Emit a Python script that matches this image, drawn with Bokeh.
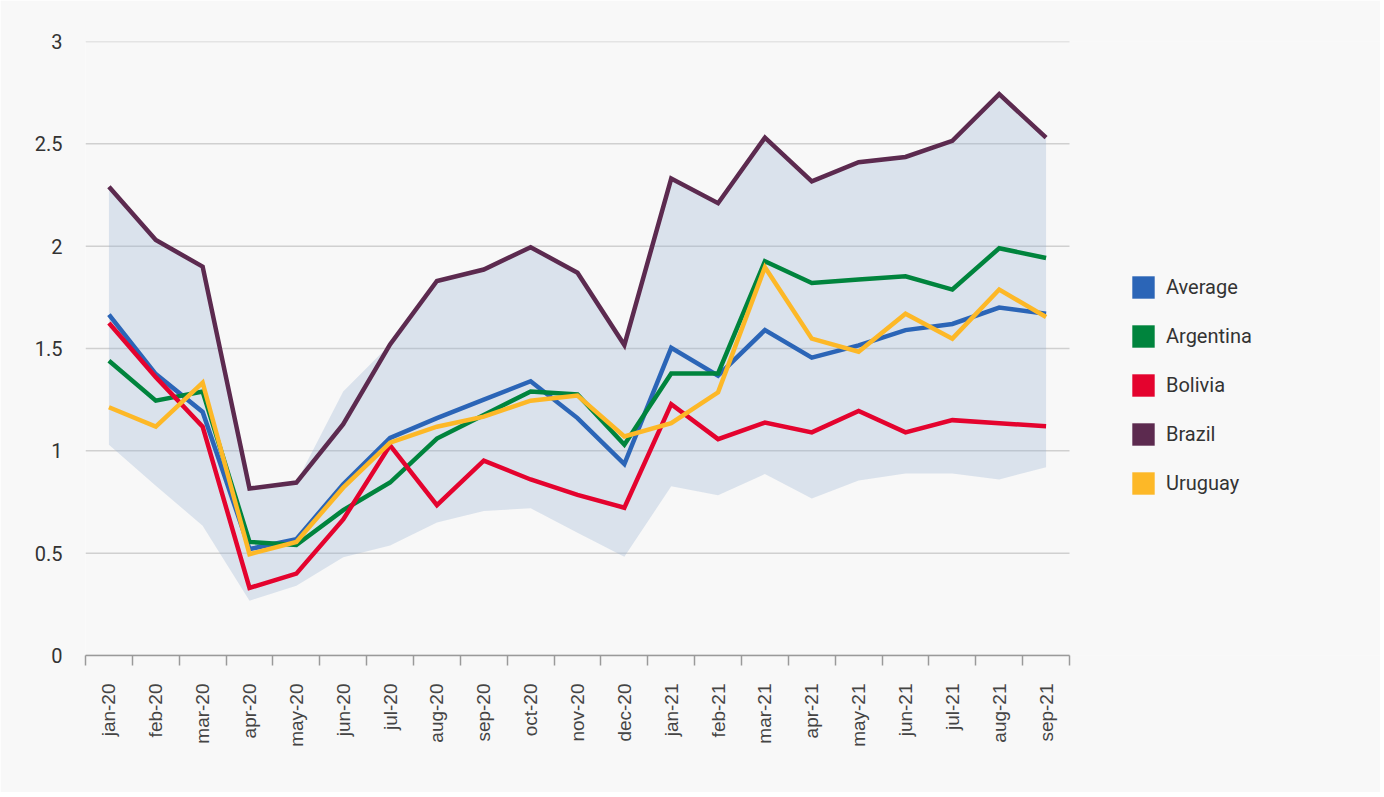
from bokeh.plotting import figure
from bokeh.models import (ColumnDataSource, FixedTicker, NumeralTickFormatter,
                          Legend, LegendItem, Range1d)
from bokeh.embed import file_html
from bokeh.resources import INLINE

months = ["jan-20", "feb-20", "mar-20", "apr-20", "may-20", "jun-20", "jul-20",
          "aug-20", "sep-20", "oct-20", "nov-20", "dec-20", "jan-21", "feb-21",
          "mar-21", "apr-21", "may-21", "jun-21", "jul-21", "aug-21", "sep-21"]

average = [1.665, 1.375, 1.19, 0.52, 0.568, 0.837, 1.063, 1.16, 1.25, 1.34, 1.16,
           0.935, 1.503, 1.367, 1.59, 1.455, 1.515, 1.59, 1.62, 1.70, 1.67]
argentina = [1.44, 1.245, 1.29, 0.555, 0.54, 0.71, 0.845, 1.06, 1.175, 1.29, 1.275,
             1.03, 1.378, 1.378, 1.926, 1.82, 1.837, 1.853, 1.788, 1.99, 1.942]
bolivia = [1.625, 1.36, 1.118, 0.33, 0.40, 0.665, 1.027, 0.735, 0.952, 0.86, 0.785,
           0.722, 1.228, 1.057, 1.138, 1.09, 1.195, 1.09, 1.15, 1.135, 1.12]
brazil = [2.29, 2.03, 1.90, 0.816, 0.845, 1.13, 1.52, 1.83, 1.886, 1.995, 1.87,
          1.517, 2.33, 2.21, 2.53, 2.317, 2.41, 2.436, 2.515, 2.743, 2.53]
uruguay = [1.213, 1.118, 1.333, 0.495, 0.555, 0.82, 1.04, 1.118, 1.167, 1.245, 1.27,
           1.07, 1.135, 1.286, 1.897, 1.548, 1.484, 1.67, 1.548, 1.788, 1.654]
band_low = [1.03, 0.83, 0.634, 0.268, 0.341, 0.48, 0.537, 0.65, 0.706, 0.72, 0.60,
            0.482, 0.827, 0.783, 0.887, 0.767, 0.855, 0.889, 0.889, 0.86, 0.92]
band_high = [2.29, 2.03, 1.90, 0.816, 0.845, 1.29, 1.52, 1.83, 1.886, 1.995, 1.87,
             1.517, 2.33, 2.21, 2.53, 2.317, 2.41, 2.436, 2.515, 2.743, 2.53]

y_ticks = [0, 0.5, 1, 1.5, 2, 2.5, 3]

series = [
    ("Average", average, "#2b65b7"),
    ("Argentina", argentina, "#00843d"),
    ("Bolivia", bolivia, "#e4032e"),
    ("Brazil", brazil, "#5c2a4f"),
    ("Uruguay", uruguay, "#fdb827"),
]

n = len(months)
idx = list(range(n))
src = ColumnDataSource(dict(x=idx, low=band_low, high=band_high, average=average,
                            argentina=argentina, bolivia=bolivia, brazil=brazil,
                            uruguay=uruguay))

W, H = 1380, 792
LEFT, TOP, BOTTOM = 85, 41, 792 - 655
CAT_PX = 984 / n
frame_w = W - LEFT
x_end = -0.5 + frame_w / CAT_PX

BG = "#f8f8f8"
p = figure(width=W, height=H, output_backend="svg", toolbar_location=None,
           x_range=Range1d(-0.5, x_end), y_range=Range1d(0, 3),
           min_border_left=LEFT, min_border_right=0, min_border_top=TOP,
           min_border_bottom=BOTTOM)
p.background_fill_color = BG
p.border_fill_color = BG
p.outline_line_color = None

# horizontal grid lines limited to the category span
grid_src = ColumnDataSource(dict(xs=[[-0.5, n - 0.5] for _ in y_ticks],
                                 ys=[[t, t] for t in y_ticks]))
p.multi_line(xs="xs", ys="ys", source=grid_src, line_color="#d0d0d0", line_width=1.5)

p.varea(x="x", y1="low", y2="high", source=src, fill_color="#94afd0", fill_alpha=0.3)

for name, vals, col in [series[3], series[0], series[1], series[2], series[4]]:
    p.line(x="x", y=name.lower(), source=src, line_color=col, line_width=4.5,
           line_join="miter")

# legend swatches: invisible (NaN) quads used only for the legend glyphs
nan = float("nan")
items = []
for name, vals, col in series:
    r = p.quad(left=[nan], right=[nan], top=[nan], bottom=[nan],
               fill_color=col, line_color=None)
    items.append(LegendItem(label=name, renderers=[r]))

legend = Legend(items=items, location=(1044, 158), padding=0, margin=0,
                glyph_width=28, glyph_height=28, label_height=28, spacing=21,
                label_standoff=9, label_text_font="Roboto",
                label_text_font_size="20px", label_text_color="#333333",
                background_fill_alpha=0, border_line_color=None)
p.add_layout(legend, "center")

# x axis
xa = p.xaxis[0]
xa.bounds = (-0.5, n - 0.5)
xa.ticker = FixedTicker(ticks=idx, minor_ticks=[i - 0.5 for i in range(n + 1)])
xa.major_label_overrides = {i: m for i, m in enumerate(months)}
xa.major_label_orientation = 1.5707963
xa.major_tick_out = 0
xa.major_tick_in = 0
xa.minor_tick_out = 10
xa.minor_tick_in = 0
xa.minor_tick_line_color = "#9a9a9a"
xa.minor_tick_line_width = 1.5
xa.axis_line_color = "#9a9a9a"
xa.axis_line_width = 1.5
xa.major_label_standoff = 18
xa.major_label_text_font = "Liberation Sans"
xa.major_label_text_font_size = "19px"
xa.major_label_text_color = "#444444"

# y axis
ya = p.yaxis[0]
ya.ticker = FixedTicker(ticks=y_ticks)
ya.formatter = NumeralTickFormatter(format="0.[0]")
ya.axis_line_color = None
ya.major_tick_out = 0
ya.major_tick_in = 0
ya.major_tick_line_color = None
ya.minor_tick_line_color = None
ya.major_label_standoff = 23
ya.major_label_text_font = "Roboto"
ya.major_label_text_font_size = "20px"
ya.major_label_text_color = "#333333"

p.xgrid.grid_line_color = None
p.ygrid.grid_line_color = None

open("out.html", "w").write(file_html(p, INLINE))
